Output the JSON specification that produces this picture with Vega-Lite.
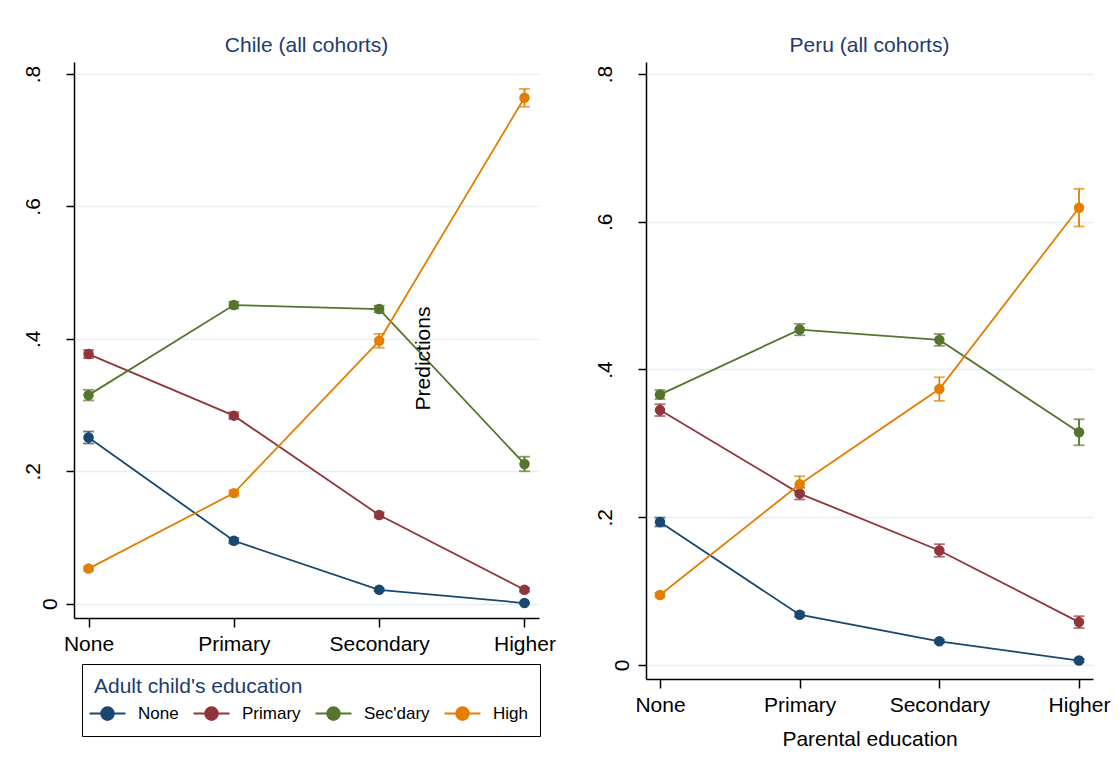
{
  "$schema": "https://vega.github.io/schema/vega-lite/v6.json",
  "background": "white",
  "padding": {"left": 22, "top": 35, "right": 5, "bottom": 5},
  "bounds": "flush",
  "spacing": 107,
  "config": {
    "font": "Liberation Sans",
    "view": {"stroke": null},
    "axis": {
      "domainColor": "black", "domainWidth": 1.5,
      "tickColor": "black", "tickWidth": 1.5,
      "labelFont": "Liberation Sans", "labelFontSize": 21, "labelColor": "black",
      "gridColor": "#e5eef1", "gridWidth": 1.5,
      "titleFont": "Liberation Sans", "titleFontSize": 21, "titleFontWeight": "normal", "titleColor": "black"
    },
    "axisX": {"labelAngle": 0, "grid": false, "tickSize": 9, "labelPadding": 6},
    "axisY": {"tickSize": 8, "labelAngle": 270, "labelAlign": "center", "labelBaseline": "alphabetic"},
    "title": {"font": "Liberation Sans", "fontSize": 21, "fontWeight": "normal", "color": "#1e3b6f", "anchor": "middle", "frame": "group", "baseline": "alphabetic", "offset": 6}
  },
  "resolve": {"legend": {"color": "independent"}},
  "datasets": {
    "chile": [
      {"parent": "None", "child": "None", "value": 0.251, "lo": 0.242, "hi": 0.260},
      {"parent": "Primary", "child": "None", "value": 0.095, "lo": 0.091, "hi": 0.099},
      {"parent": "Secondary", "child": "None", "value": 0.021, "lo": 0.019, "hi": 0.023},
      {"parent": "Higher", "child": "None", "value": 0.001, "lo": 0.000, "hi": 0.002},
      {"parent": "None", "child": "Primary", "value": 0.377, "lo": 0.371, "hi": 0.383},
      {"parent": "Primary", "child": "Primary", "value": 0.284, "lo": 0.279, "hi": 0.289},
      {"parent": "Secondary", "child": "Primary", "value": 0.134, "lo": 0.130, "hi": 0.138},
      {"parent": "Higher", "child": "Primary", "value": 0.021, "lo": 0.018, "hi": 0.024},
      {"parent": "None", "child": "Sec'dary", "value": 0.315, "lo": 0.307, "hi": 0.323},
      {"parent": "Primary", "child": "Sec'dary", "value": 0.451, "lo": 0.446, "hi": 0.456},
      {"parent": "Secondary", "child": "Sec'dary", "value": 0.445, "lo": 0.440, "hi": 0.450},
      {"parent": "Higher", "child": "Sec'dary", "value": 0.211, "lo": 0.200, "hi": 0.222},
      {"parent": "None", "child": "High", "value": 0.053, "lo": 0.050, "hi": 0.056},
      {"parent": "Primary", "child": "High", "value": 0.167, "lo": 0.163, "hi": 0.171},
      {"parent": "Secondary", "child": "High", "value": 0.397, "lo": 0.3865, "hi": 0.4075},
      {"parent": "Higher", "child": "High", "value": 0.764, "lo": 0.7505, "hi": 0.7775}
    ],
    "peru": [
      {"parent": "None", "child": "None", "value": 0.1935, "lo": 0.1875, "hi": 0.1995},
      {"parent": "Primary", "child": "None", "value": 0.068, "lo": 0.065, "hi": 0.071},
      {"parent": "Secondary", "child": "None", "value": 0.032, "lo": 0.030, "hi": 0.034},
      {"parent": "Higher", "child": "None", "value": 0.006, "lo": 0.004, "hi": 0.008},
      {"parent": "None", "child": "Primary", "value": 0.345, "lo": 0.337, "hi": 0.353},
      {"parent": "Primary", "child": "Primary", "value": 0.232, "lo": 0.224, "hi": 0.240},
      {"parent": "Secondary", "child": "Primary", "value": 0.155, "lo": 0.1465, "hi": 0.1635},
      {"parent": "Higher", "child": "Primary", "value": 0.058, "lo": 0.050, "hi": 0.066},
      {"parent": "None", "child": "Sec'dary", "value": 0.366, "lo": 0.360, "hi": 0.372},
      {"parent": "Primary", "child": "Sec'dary", "value": 0.454, "lo": 0.4463, "hi": 0.4617},
      {"parent": "Secondary", "child": "Sec'dary", "value": 0.440, "lo": 0.432, "hi": 0.448},
      {"parent": "Higher", "child": "Sec'dary", "value": 0.315, "lo": 0.2974, "hi": 0.3326},
      {"parent": "None", "child": "High", "value": 0.0947, "lo": 0.0917, "hi": 0.0977},
      {"parent": "Primary", "child": "High", "value": 0.2445, "lo": 0.2335, "hi": 0.2555},
      {"parent": "Secondary", "child": "High", "value": 0.3735, "lo": 0.3575, "hi": 0.3895},
      {"parent": "Higher", "child": "High", "value": 0.619, "lo": 0.5935, "hi": 0.6445}
    ]
  },
  "hconcat": [
    {
      "width": 465,
      "height": 556,
      "title": "Chile (all cohorts)",
      "data": {"name": "chile"},
      "encoding": {
        "x": {"field": "parent", "type": "ordinal", "sort": ["None", "Primary", "Secondary", "Higher"], "scale": {"type": "point", "padding": 0.1}, "axis": {"title": null}},
        "color": {
          "field": "child", "type": "nominal",
          "scale": {"domain": ["None", "Primary", "Sec'dary", "High"], "range": ["#1a476f", "#90353b", "#55752f", "#e37e00"]},
          "legend": {
            "orient": "none", "legendX": 8, "legendY": 602,
            "direction": "horizontal", "columns": 4,
            "title": "Adult child's education", "titleLimit": 400,
            "titleFont": "Liberation Sans", "titleFontSize": 21, "titleFontWeight": "normal", "titleColor": "#1e3b6f", "titlePadding": 8,
            "labelFont": "Liberation Sans", "labelFontSize": 17, "labelColor": "black", "labelOffset": 22, "labelBaseline": "middle",
            "symbolType": "M-2.5,0L2.5,0M0.875,0A0.875,0.875,0,1,1,-0.875,0A0.875,0.875,0,1,1,0.875,0Z",
            "symbolSize": 207, "symbolStrokeWidth": 2, "symbolOffset": 5,
            "columnPadding": 10,
            "padding": 12, "strokeColor": "black", "fillColor": "white",
            "encode": {"legend": {"strokeWidth": {"value": 1.5}}}
          }
        }
      },
      "layer": [
        {
          "mark": {"type": "rule", "strokeWidth": 1.8},
          "encoding": {
            "y": {"field": "lo", "type": "quantitative", "scale": {"domain": [-0.0216, 0.8181], "nice": false, "zero": false}, "axis": {"title": null, "values": [0, 0.2, 0.4, 0.6, 0.8], "labelExpr": "datum.value == 0 ? '0' : replace(format(datum.value, '.1f'), '0.', '.')", "labelPadding": {"condition": {"test": "datum.value == 0", "value": 10}, "value": 27}}},
            "y2": {"field": "hi"}
          }
        },
        {
          "mark": {"type": "tick", "size": 11, "thickness": 1.8},
          "encoding": {"y": {"field": "lo", "type": "quantitative", "scale": {"domain": [-0.0216, 0.8181], "nice": false, "zero": false}, "axis": {"title": null, "values": [0, 0.2, 0.4, 0.6, 0.8], "labelExpr": "datum.value == 0 ? '0' : replace(format(datum.value, '.1f'), '0.', '.')", "labelPadding": {"condition": {"test": "datum.value == 0", "value": 10}, "value": 27}}}}
        },
        {
          "mark": {"type": "tick", "size": 11, "thickness": 1.8},
          "encoding": {"y": {"field": "hi", "type": "quantitative", "scale": {"domain": [-0.0216, 0.8181], "nice": false, "zero": false}, "axis": {"title": null, "values": [0, 0.2, 0.4, 0.6, 0.8], "labelExpr": "datum.value == 0 ? '0' : replace(format(datum.value, '.1f'), '0.', '.')", "labelPadding": {"condition": {"test": "datum.value == 0", "value": 10}, "value": 27}}}}
        },
        {
          "mark": {"type": "line", "strokeWidth": 1.8},
          "encoding": {"y": {"field": "value", "type": "quantitative", "scale": {"domain": [-0.0216, 0.8181], "nice": false, "zero": false}, "axis": {"title": null, "values": [0, 0.2, 0.4, 0.6, 0.8], "labelExpr": "datum.value == 0 ? '0' : replace(format(datum.value, '.1f'), '0.', '.')", "labelPadding": {"condition": {"test": "datum.value == 0", "value": 10}, "value": 27}}}}
        },
        {
          "mark": {"type": "point", "filled": true, "size": 110, "opacity": 1},
          "encoding": {"y": {"field": "value", "type": "quantitative", "scale": {"domain": [-0.0216, 0.8181], "nice": false, "zero": false}, "axis": {"title": null, "values": [0, 0.2, 0.4, 0.6, 0.8], "labelExpr": "datum.value == 0 ? '0' : replace(format(datum.value, '.1f'), '0.', '.')", "labelPadding": {"condition": {"test": "datum.value == 0", "value": 10}, "value": 27}}}}
        }
      ]
    },
    {
      "width": 447,
      "height": 617,
      "title": "Peru (all cohorts)",
      "data": {"name": "peru"},
      "encoding": {
        "x": {"field": "parent", "type": "ordinal", "sort": ["None", "Primary", "Secondary", "Higher"], "scale": {"type": "point", "padding": 0.1}, "axis": {"title": "Parental education", "titleBaseline": "alphabetic", "titleY": 66}},
        "color": {
          "field": "child", "type": "nominal",
          "scale": {"domain": ["None", "Primary", "Sec'dary", "High"], "range": ["#1a476f", "#90353b", "#55752f", "#e37e00"]},
          "legend": null
        }
      },
      "layer": [
        {
          "mark": {"type": "rule", "strokeWidth": 1.8},
          "encoding": {
            "y": {"field": "lo", "type": "quantitative", "scale": {"domain": [-0.019, 0.8162], "nice": false, "zero": false}, "axis": {"title": "Predictions", "titleAngle": 270, "titleAlign": "center", "titleBaseline": "alphabetic", "titleX": -217, "titleY": 296, "values": [0, 0.2, 0.4, 0.6, 0.8], "labelExpr": "datum.value == 0 ? '0' : replace(format(datum.value, '.1f'), '0.', '.')", "labelPadding": {"condition": {"test": "datum.value == 0", "value": 10}, "value": 27}}},
            "y2": {"field": "hi"}
          }
        },
        {
          "mark": {"type": "tick", "size": 11, "thickness": 1.8},
          "encoding": {"y": {"field": "lo", "type": "quantitative", "scale": {"domain": [-0.019, 0.8162], "nice": false, "zero": false}, "axis": {"title": "Predictions", "titleAngle": 270, "titleAlign": "center", "titleBaseline": "alphabetic", "titleX": -217, "titleY": 296, "values": [0, 0.2, 0.4, 0.6, 0.8], "labelExpr": "datum.value == 0 ? '0' : replace(format(datum.value, '.1f'), '0.', '.')", "labelPadding": {"condition": {"test": "datum.value == 0", "value": 10}, "value": 27}}}}
        },
        {
          "mark": {"type": "tick", "size": 11, "thickness": 1.8},
          "encoding": {"y": {"field": "hi", "type": "quantitative", "scale": {"domain": [-0.019, 0.8162], "nice": false, "zero": false}, "axis": {"title": "Predictions", "titleAngle": 270, "titleAlign": "center", "titleBaseline": "alphabetic", "titleX": -217, "titleY": 296, "values": [0, 0.2, 0.4, 0.6, 0.8], "labelExpr": "datum.value == 0 ? '0' : replace(format(datum.value, '.1f'), '0.', '.')", "labelPadding": {"condition": {"test": "datum.value == 0", "value": 10}, "value": 27}}}}
        },
        {
          "mark": {"type": "line", "strokeWidth": 1.8},
          "encoding": {"y": {"field": "value", "type": "quantitative", "scale": {"domain": [-0.019, 0.8162], "nice": false, "zero": false}, "axis": {"title": "Predictions", "titleAngle": 270, "titleAlign": "center", "titleBaseline": "alphabetic", "titleX": -217, "titleY": 296, "values": [0, 0.2, 0.4, 0.6, 0.8], "labelExpr": "datum.value == 0 ? '0' : replace(format(datum.value, '.1f'), '0.', '.')", "labelPadding": {"condition": {"test": "datum.value == 0", "value": 10}, "value": 27}}}}
        },
        {
          "mark": {"type": "point", "filled": true, "size": 110, "opacity": 1},
          "encoding": {"y": {"field": "value", "type": "quantitative", "scale": {"domain": [-0.019, 0.8162], "nice": false, "zero": false}, "axis": {"title": "Predictions", "titleAngle": 270, "titleAlign": "center", "titleBaseline": "alphabetic", "titleX": -217, "titleY": 296, "values": [0, 0.2, 0.4, 0.6, 0.8], "labelExpr": "datum.value == 0 ? '0' : replace(format(datum.value, '.1f'), '0.', '.')", "labelPadding": {"condition": {"test": "datum.value == 0", "value": 10}, "value": 27}}}}
        }
      ]
    }
  ]
}
